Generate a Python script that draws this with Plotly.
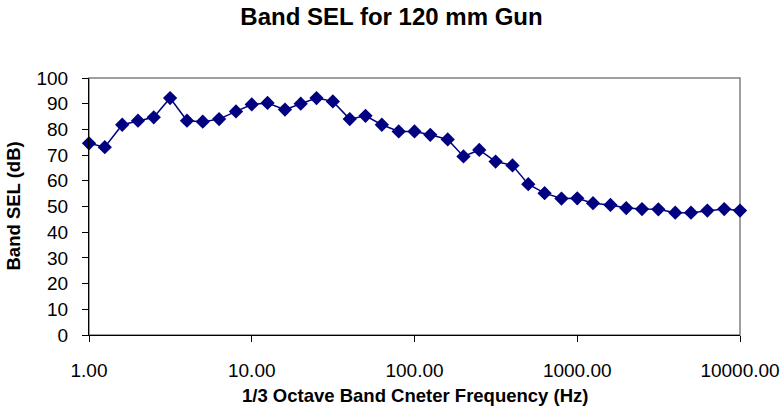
import plotly.graph_objects as go

# 1/3 octave band centre frequencies (Hz) and band sound exposure levels (dB)
freq_hz = [1, 1.25, 1.6, 2, 2.5, 3.15, 4, 5, 6.3, 8,
           10, 12.5, 16, 20, 25, 31.5, 40, 50, 63, 80,
           100, 125, 160, 200, 250, 315, 400, 500, 630, 800,
           1000, 1250, 1600, 2000, 2500, 3150, 4000, 5000, 6300, 8000, 10000]
band_sel_db = [74.6, 73.1, 81.8, 83.4, 84.7, 92.2, 83.4, 83.0, 84.0, 87.0,
               89.7, 90.3, 87.7, 90.0, 92.2, 90.9, 84.0, 85.3, 81.8, 79.2,
               79.2, 77.9, 76.1, 69.5, 72.0, 67.5, 66.0, 58.7, 55.2, 53.1,
               53.2, 51.3, 50.6, 49.4, 49.0, 48.9, 47.6, 47.6, 48.4, 49.0, 48.4]

x_tick_vals = [1, 10, 100, 1000, 10000]
x_tick_text = ["1.00", "10.00", "100.00", "1000.00", "10000.00"]
y_tick_vals = list(range(0, 101, 10))

navy = "#000080"
font_family = "Liberation Sans, Arial, sans-serif"

fig = go.Figure()
fig.add_trace(go.Scatter(
    x=freq_hz, y=band_sel_db, mode="lines+markers",
    line=dict(color=navy, width=1.5),
    marker=dict(symbol="diamond", size=11, color=navy),
    showlegend=False,
    cliponaxis=False,
))

# grey frame around the plot area; left and bottom axis lines sit on top in black
fig.add_shape(type="rect", xref="paper", yref="paper", x0=0, y0=0, x1=1, y1=1,
              line=dict(color="#808080", width=1.5), layer="below")

fig.update_layout(
    width=783, height=408,
    margin=dict(l=89, r=43, t=78, b=73, autoexpand=False),
    paper_bgcolor="white", plot_bgcolor="white",
    font=dict(family=font_family, color="black", size=19),
    title=dict(text="<b>Band SEL for 120 mm Gun</b>", x=0.5, xref="container",
               xanchor="center", y=1 - 17 / 408, yref="container", yanchor="middle",
               font=dict(size=24, family=font_family, color="black")),
    xaxis=dict(type="log", range=[0, 4], tickvals=x_tick_vals, ticktext=x_tick_text,
               automargin=False,
               showgrid=False, zeroline=False, showline=True, linecolor="black",
               linewidth=1.2, ticks="outside", ticklen=6, tickcolor="black",
               ticklabelstandoff=12, tickfont=dict(size=19)),
    yaxis=dict(range=[0, 100], tickvals=y_tick_vals, showgrid=False, zeroline=False,
               automargin=False,
               showline=True, linecolor="black", linewidth=1.2, ticks="outside",
               ticklen=6, tickcolor="black", ticklabelstandoff=10,
               tickfont=dict(size=19)),
    annotations=[
        dict(text="<b>1/3 Octave Band Cneter Frequency (Hz)</b>", xref="paper",
             yref="paper", x=0.5, y=-60 / 257, xanchor="center", yanchor="middle",
             showarrow=False, font=dict(size=18.5)),
        dict(text="<b>Band SEL (dB)</b>", xref="paper", yref="paper",
             x=-76 / 651, y=0.5, xanchor="center", yanchor="middle", textangle=-90,
             showarrow=False, font=dict(size=18.5)),
    ],
)

fig.write_html("out.html")
